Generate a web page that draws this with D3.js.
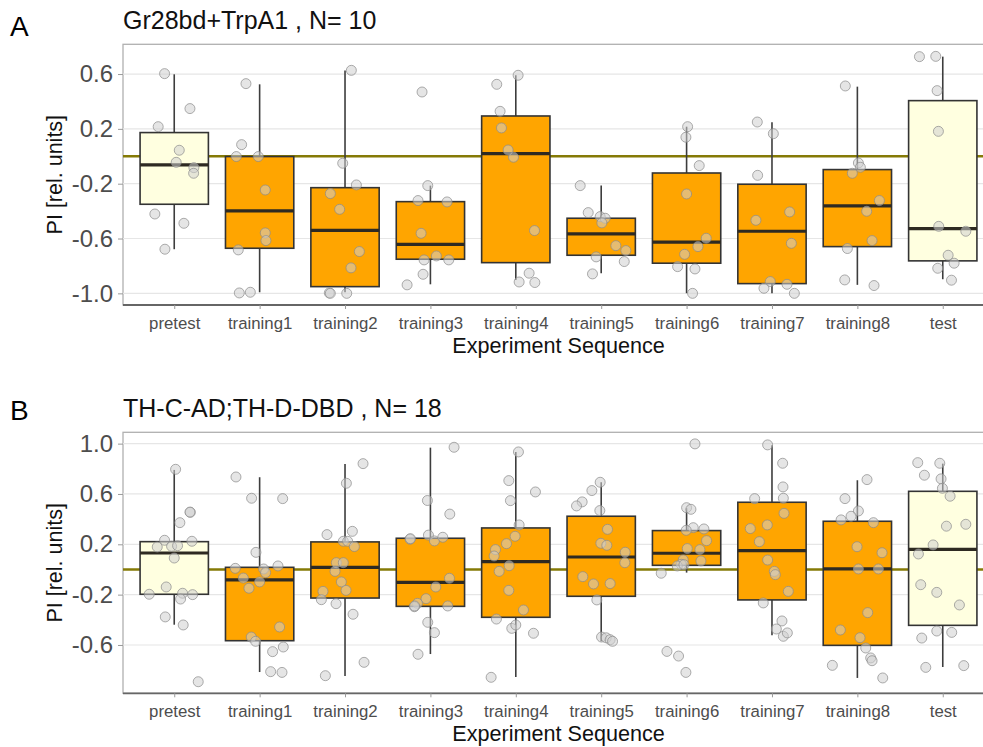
<!DOCTYPE html>
<html>
<head>
<meta charset="utf-8">
<script src="https://cdn.jsdelivr.net/npm/d3@7"></script>
<style>
  body { margin: 0; background: #fff; }
  svg { display: block; font-family: "Liberation Sans", Arial, sans-serif; }
</style>
</head>
<body>
<svg id="chart" width="983" height="747"></svg>
<script>
// categories shared by both panels
var categories = ['pretest', 'training1', 'training2', 'training3', 'training4',
  'training5', 'training6', 'training7', 'training8', 'test']
var controlCats = ['pretest', 'test']

// Panel A: Gr28bd+TrpA1, N = 10
var aTicks = [0.6, 0.2, -0.2, -0.6, -1.0]
var aValues = [
  [0.603, 0.348, 0.216, 0.044, -0.044, -0.083, -0.124, -0.421, -0.489, -0.678],
  [0.530, 0.085, -0.002, -0.002, -0.246, -0.559, -0.615, -0.683, -0.997, -0.992],
  [0.627, -0.051, -0.209, -0.272, -0.387, -0.695, -0.814, -0.997, -1.0, -1.0],
  [0.469, -0.214, -0.323, -0.333, -0.562, -0.727, -0.756, -0.756, -0.861, -0.938],
  [0.591, 0.525, 0.328, 0.207, 0.046, -0.007, -0.542, -0.853, -0.917, -0.921],
  [-0.214, -0.411, -0.440, -0.452, -0.486, -0.652, -0.688, -0.734, -0.768, -0.858],
  [0.216, 0.139, -0.068, -0.275, -0.598, -0.659, -0.715, -0.805, -0.822, -1.0],
  [0.250, 0.165, -0.139, -0.406, -0.467, -0.635, -0.914, -0.934, -0.963, -1.0],
  [0.513, -0.049, -0.080, -0.124, -0.323, -0.401, -0.615, -0.673, -0.902, -0.943],
  [0.727, 0.729, 0.479, 0.182, -0.511, -0.547, -0.722, -0.780, -0.817, -0.904]
]
// horizontal jitter of each point, as a fraction of the category step
var aJitter = [
  [-0.113, 0.184, -0.188, 0.059, 0.023, 0.230, 0.227, -0.227, 0.113, -0.109],
  [-0.160, -0.211, -0.273, -0.016, 0.066, 0.066, 0.074, -0.25, -0.238, -0.109],
  [0.074, -0.027, 0.133, -0.172, -0.063, 0.168, 0.070, -0.184, -0.172, 0.020],
  [-0.098, -0.031, -0.145, 0.195, -0.109, 0.070, -0.074, 0.215, -0.086, -0.273],
  [0.027, -0.223, -0.184, -0.168, -0.090, -0.027, 0.219, 0.156, 0.039, 0.223],
  [-0.246, -0.152, -0.012, 0.047, 0.008, 0.172, 0.289, -0.059, 0.270, -0.102],
  [0.012, -0.008, 0.148, 0.0, 0.230, 0.133, -0.023, -0.105, 0.098, 0.070],
  [-0.172, 0.016, -0.168, 0.207, -0.188, 0.227, -0.020, 0.176, -0.094, 0.262],
  [-0.141, 0.012, 0.035, -0.059, 0.258, 0.109, 0.172, -0.117, -0.148, 0.195],
  [-0.273, -0.082, -0.066, -0.051, -0.047, 0.270, 0.063, 0.133, -0.059, 0.102]
]
var aLow = [-0.678, -0.992, -0.992, -0.934, -0.902, -0.853, -0.999, -0.999, -0.938, -0.897]
var aQ1 = [-0.350, -0.671, -0.951, -0.751, -0.776, -0.722, -0.780, -0.929, -0.659, -0.763]
var aMed = [-0.063, -0.399, -0.540, -0.642, 0.019, -0.566, -0.627, -0.547, -0.362, -0.528]
var aQ3 = [0.173, -0.002, -0.229, -0.331, 0.294, -0.452, -0.122, -0.204, -0.097, 0.406]
var aHigh = [0.598, 0.525, 0.625, -0.214, 0.591, -0.214, 0.216, 0.248, 0.508, 0.727]

// Panel B: TH-C-AD;TH-D-DBD, N = 18
var bTicks = [1.0, 0.6, 0.2, -0.2, -0.6]
var bValues = [
  [0.796, 0.454, 0.456, 0.372, 0.232, 0.224, 0.179, 0.184, 0.189, 0.091, -0.139, -0.197, -0.189, -0.235, -0.200, -0.377, -0.441, -0.892],
  [0.735, 0.566, 0.563, 0.136, 0.009, 0.004, 0.028, -0.025, -0.068, -0.099, -0.149, -0.457, -0.537, -0.571, -0.653, -0.616, -0.812, -0.818],
  [0.841, 0.685, 0.277, 0.303, 0.224, 0.224, 0.182, 0.054, 0.054, -0.015, -0.099, -0.166, -0.174, -0.240, -0.272, -0.356, -0.738, -0.844],
  [0.971, 0.548, 0.440, 0.273, 0.240, 0.227, 0.256, -0.070, -0.139, -0.232, -0.269, -0.296, -0.290, -0.420, -0.502, -0.674, 0.245, -0.290],
  [0.934, 0.706, 0.547, 0.616, 0.354, 0.264, 0.205, 0.158, 0.107, 0.030, -0.015, -0.166, -0.322, -0.394, -0.468, -0.441, -0.507, -0.857],
  [0.693, 0.627, 0.537, 0.505, 0.468, 0.319, 0.208, 0.192, 0.137, 0.054, -0.057, -0.115, -0.112, -0.242, -0.537, -0.543, -0.558, -0.571],
  [0.998, 0.491, 0.478, 0.332, 0.322, 0.311, 0.229, 0.166, 0.158, 0.068, 0.076, 0.041, 0.028, 0.038, -0.030, -0.651, -0.688, -0.818],
  [0.990, 0.844, 0.656, 0.563, 0.566, 0.446, 0.325, 0.354, 0.221, 0.075, -0.015, -0.041, -0.174, -0.266, -0.409, -0.473, -0.531, -0.504],
  [0.714, 0.563, 0.465, 0.423, 0.394, 0.372, 0.181, 0.133, 0.004, 0.004, -0.343, -0.481, -0.542, -0.624, -0.703, -0.725, -0.762, -0.862],
  [0.849, 0.844, 0.749, 0.720, 0.645, 0.582, 0.344, 0.359, 0.195, 0.123, -0.121, -0.182, -0.282, -0.489, -0.500, -0.545, -0.778, -0.764]
]
var bJitter = [
  [0.016, 0.188, 0.184, 0.066, -0.113, 0.207, -0.199, -0.031, 0.039, 0.0, -0.094, -0.293, 0.098, 0.074, 0.215, -0.105, 0.105, 0.281],
  [-0.277, -0.094, 0.270, -0.043, -0.285, 0.047, 0.215, 0.070, -0.191, 0.0, -0.125, 0.234, -0.098, -0.047, 0.152, 0.277, 0.129, 0.262],
  [0.211, 0.016, -0.211, 0.086, -0.020, 0.031, 0.109, -0.102, -0.020, -0.117, -0.043, 0.012, -0.258, -0.277, -0.105, 0.094, 0.223, -0.230],
  [0.277, -0.035, 0.227, -0.023, -0.238, 0.047, 0.145, 0.223, 0.063, -0.051, -0.152, -0.188, 0.203, -0.031, 0.047, -0.145, -0.235, -0.185],
  [0.031, -0.082, -0.063, 0.230, 0.039, -0.008, -0.109, -0.238, -0.254, -0.078, -0.195, -0.082, 0.090, -0.227, -0.047, 0.0, 0.207, -0.289],
  [-0.012, -0.109, -0.223, -0.289, -0.016, 0.074, -0.004, 0.066, 0.281, 0.277, -0.215, -0.090, 0.105, -0.051, 0.004, 0.059, 0.105, 0.133],
  [0.098, 0.0, 0.051, 0.078, 0.203, -0.004, 0.234, 0.008, 0.156, 0.168, -0.039, -0.063, -0.109, -0.031, -0.297, -0.230, -0.094, -0.008],
  [-0.051, 0.125, 0.129, -0.203, 0.133, 0.141, -0.254, -0.055, -0.148, -0.051, 0.027, 0.039, 0.191, -0.102, 0.117, 0.051, 0.133, 0.180],
  [0.113, -0.145, 0.012, -0.074, -0.191, 0.188, -0.004, 0.289, 0.012, 0.246, 0.121, -0.199, 0.031, 0.098, 0.156, 0.172, -0.293, 0.297],
  [-0.293, -0.035, -0.215, -0.020, -0.004, 0.086, 0.043, 0.270, -0.113, -0.285, -0.258, -0.070, 0.195, -0.070, 0.105, -0.246, -0.199, 0.246]
]
var bLow = [-0.439, -0.815, -0.846, -0.672, -0.855, -0.571, -0.025, -0.523, -0.862, -0.775]
var bQ1 = [-0.197, -0.566, -0.227, -0.293, -0.380, -0.213, 0.033, -0.242, -0.603, -0.444]
var bMed = [0.131, -0.083, 0.017, -0.102, 0.062, 0.099, 0.129, 0.150, 0.004, 0.160]
var bQ3 = [0.221, 0.017, 0.219, 0.248, 0.330, 0.423, 0.309, 0.534, 0.383, 0.621]
var bHigh = [0.791, 0.733, 0.839, 0.968, 0.934, 0.693, 0.486, 0.987, 0.709, 0.841]

var colors = {
  box: '#ffa500',
  control: '#ffffe0',
  zero: '#857a06',
  grid: '#e6e6e6',
  ink: '#333333',
  tickText: '#4d4d4d'
}

var svg = d3.select('#chart')
var left = 123
var right = 994

var xScale = d3.scalePoint()
  .domain(categories)
  .range([left, right])
  .padding(0.6)

function drawPanel (p) {
  var g = svg.append('g').classed('panel', true)
  var yScale = d3.scaleLinear().domain(p.domain).range([p.bottom, p.top])
  var step = xScale.step()
  var boxW = step * 0.8

  // panel letter and title
  g.append('text').attr('x', 10).attr('y', p.letterY)
    .attr('font-size', 28).attr('fill', '#000').text(p.letter)
  g.append('text').attr('x', left).attr('y', p.titleY)
    .attr('font-size', 25).attr('fill', '#111').text(p.title)

  // panel background + grid
  g.append('rect').attr('x', left).attr('y', p.top)
    .attr('width', right - left).attr('height', p.bottom - p.top)
    .attr('fill', '#fff').attr('stroke', '#b0b0b0').attr('stroke-width', 1.3)

  g.append('g').selectAll('line').data(p.ticks).enter().append('line')
    .attr('x1', left).attr('x2', right)
    .attr('y1', function (d) { return yScale(d) })
    .attr('y2', function (d) { return yScale(d) })
    .attr('stroke', colors.grid).attr('stroke-width', 1.2)

  // reference line at zero
  g.append('line').attr('x1', left).attr('x2', right)
    .attr('y1', yScale(0)).attr('y2', yScale(0))
    .attr('stroke', colors.zero).attr('stroke-width', 2.6)

  var idx = d3.range(categories.length)

  // whiskers
  var wh = g.append('g').classed('whiskers', true)
  wh.selectAll('line.lo').data(idx).enter().append('line')
    .attr('x1', function (i) { return xScale(categories[i]) })
    .attr('x2', function (i) { return xScale(categories[i]) })
    .attr('y1', function (i) { return yScale(p.low[i]) })
    .attr('y2', function (i) { return yScale(p.q1[i]) })
    .attr('stroke', '#3d3d3d').attr('stroke-width', 1.6)
  wh.selectAll('line.hi').data(idx).enter().append('line')
    .attr('x1', function (i) { return xScale(categories[i]) })
    .attr('x2', function (i) { return xScale(categories[i]) })
    .attr('y1', function (i) { return yScale(p.q3[i]) })
    .attr('y2', function (i) { return yScale(p.high[i]) })
    .attr('stroke', '#3d3d3d').attr('stroke-width', 1.6)

  // boxes
  g.append('g').classed('boxes', true).selectAll('rect').data(idx).enter().append('rect')
    .attr('x', function (i) { return xScale(categories[i]) - boxW / 2 })
    .attr('y', function (i) { return yScale(p.q3[i]) })
    .attr('width', boxW)
    .attr('height', function (i) { return yScale(p.q1[i]) - yScale(p.q3[i]) })
    .attr('fill', function (i) {
      return controlCats.indexOf(categories[i]) >= 0 ? colors.control : colors.box
    })
    .attr('stroke', colors.ink).attr('stroke-width', 1.6)

  // medians
  g.append('g').classed('medians', true).selectAll('line').data(idx).enter().append('line')
    .attr('x1', function (i) { return xScale(categories[i]) - boxW / 2 })
    .attr('x2', function (i) { return xScale(categories[i]) + boxW / 2 })
    .attr('y1', function (i) { return yScale(p.med[i]) })
    .attr('y2', function (i) { return yScale(p.med[i]) })
    .attr('stroke', '#2e2a22').attr('stroke-width', 3.2)

  // jittered points
  var pts = []
  p.values.forEach(function (vals, i) {
    vals.forEach(function (v, k) {
      pts.push({ cat: categories[i], v: v, j: p.jitter[i][k] })
    })
  })
  g.append('g').classed('points', true).selectAll('circle').data(pts).enter().append('circle')
    .attr('cx', function (d) { return xScale(d.cat) + d.j * step })
    .attr('cy', function (d) { return yScale(d.v) })
    .attr('r', 5)
    .attr('fill', '#cfcfcf').attr('fill-opacity', 0.55)
    .attr('stroke', '#8a8a8a').attr('stroke-opacity', 0.7).attr('stroke-width', 1)

  // y axis
  var yAxis = d3.axisLeft(yScale).tickValues(p.ticks)
    .tickSize(5).tickPadding(5)
    .tickFormat(function (d) { return d.toFixed(1) })
  var ya = g.append('g').attr('transform', 'translate(' + left + ',0)').call(yAxis)
  ya.select('.domain').remove()
  ya.selectAll('.tick line').attr('stroke', '#9a9a9a')
  ya.selectAll('.tick text').attr('font-size', 24).attr('fill', colors.tickText)
    .attr('font-family', '"Liberation Sans", Arial, sans-serif')

  // x axis
  var xAxis = d3.axisBottom(xScale).tickSize(4).tickSizeOuter(0)
  var xa = g.append('g').attr('transform', 'translate(0,' + p.bottom + ')').call(xAxis)
  xa.select('.domain').attr('stroke', '#666').attr('stroke-width', 1.8)
    .attr('d', 'M' + left + ',0H' + right)
  xa.selectAll('.tick line').attr('stroke', '#9a9a9a')
  xa.selectAll('.tick text').attr('font-size', 16.8).attr('fill', colors.tickText)
    .attr('y', 23.5).attr('dy', null)
    .attr('font-family', '"Liberation Sans", Arial, sans-serif')

  // axis titles
  g.append('text')
    .attr('transform', 'translate(62,' + ((p.top + p.bottom) / 2) + ') rotate(-90)')
    .attr('text-anchor', 'middle').attr('font-size', 21.5).attr('fill', '#111')
    .text('PI [rel. units]')
  g.append('text')
    .attr('x', (left + right) / 2).attr('y', p.bottom + 48)
    .attr('text-anchor', 'middle').attr('font-size', 21.6).attr('fill', '#111')
    .text('Experiment Sequence')
}

drawPanel({
  letter: 'A', letterY: 36, title: 'Gr28bd+TrpA1 , N= 10', titleY: 28.5,
  top: 44.3, bottom: 305, domain: [-1.085, 0.817], ticks: aTicks,
  values: aValues, jitter: aJitter,
  low: aLow, q1: aQ1, med: aMed, q3: aQ3, high: aHigh
})

drawPanel({
  letter: 'B', letterY: 420, title: 'TH-C-AD;TH-D-DBD , N= 18', titleY: 416.5,
  top: 432.3, bottom: 693.3, domain: [-0.984, 1.09], ticks: bTicks,
  values: bValues, jitter: bJitter,
  low: bLow, q1: bQ1, med: bMed, q3: bQ3, high: bHigh
})
</script>
</body>
</html>
